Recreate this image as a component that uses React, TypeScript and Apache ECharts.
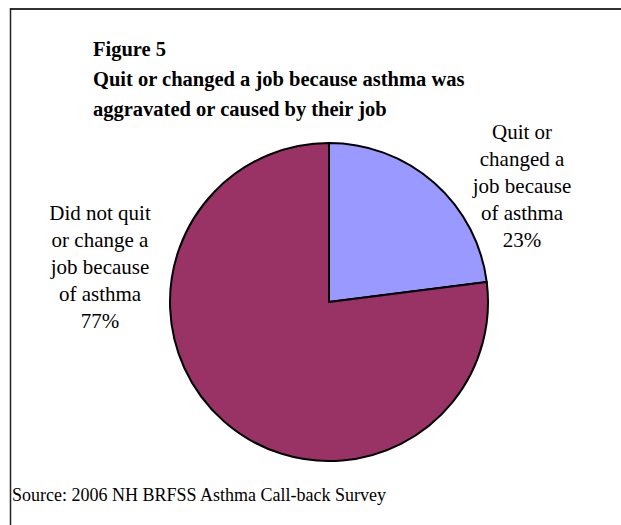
import React, { useEffect, useRef } from "react";
import * as echarts from "echarts";

const categories = [
  "Quit or\nchanged a\njob because\nof asthma",
  "Did not quit\nor change a\njob because\nof asthma",
];
const values = [23, 77];
const colors = ["#9999FF", "#993366"];
const titleLines = [
  "Figure 5",
  "Quit or changed a job because asthma was",
  "aggravated or caused by their job",
];
const sourceText = "Source: 2006 NH BRFSS Asthma Call-back Survey";
const labelCenters = [
  [522, 185],
  [100, 266],
];

const FONT = "Liberation Serif";

export default function App() {
  const ref = useRef<HTMLDivElement>(null);
  useEffect(() => {
    if (!ref.current) return;
    const chart = echarts.init(ref.current, null, { renderer: "svg" });
    chart.setOption({
      animation: false,
      backgroundColor: "#ffffff",
      textStyle: { fontFamily: FONT },
      title: {
        text: titleLines.join("\n"),
        left: 88,
        top: 29,
        textStyle: {
          fontFamily: FONT,
          fontWeight: "bold",
          fontSize: 20.5,
          lineHeight: 30,
          color: "#000",
        },
      },
      graphic: [
        {
          type: "line",
          shape: { x1: 10, y1: 9, x2: 621, y2: 9 },
          style: { stroke: "#333", lineWidth: 2 },
        },
        {
          type: "line",
          shape: { x1: 10.5, y1: 8, x2: 10.5, y2: 525 },
          style: { stroke: "#222", lineWidth: 1.5 },
        },
        {
          type: "text",
          left: 12,
          top: 486,
          style: {
            text: sourceText,
            font: `18px ${FONT}`,
            fill: "#000",
          },
        },
        {
          type: "text",
          x: labelCenters[0][0],
          y: labelCenters[0][1] - 67,
          style: {
            text: `${categories[0]}\n${values[0]}%`,
            fontFamily: FONT,
            fontSize: 21,
            fontWeight: "normal",
            lineHeight: 27,
            fill: "#000",
            align: "center",
            verticalAlign: "top",
          },
        },
        {
          type: "text",
          x: labelCenters[1][0],
          y: labelCenters[1][1] - 67,
          style: {
            text: `${categories[1]}\n${values[1]}%`,
            font: `normal 21px ${FONT}`,
            lineHeight: 27,
            fill: "#000",
            align: "center",
          },
        },
      ],
      series: [
        {
          type: "pie",
          center: [329, 302],
          radius: 159,
          startAngle: 90,
          clockwise: true,
          silent: true,
          itemStyle: { borderColor: "#000", borderWidth: 2 },
          label: { show: false },
          labelLine: { show: false },
          data: categories.map((c, i) => ({
            name: c,
            value: values[i],
            itemStyle: { color: colors[i] },
          })),
        },
      ],
    });
    return () => chart.dispose();
  }, []);
  return (
    <div
      ref={ref}
      style={{ position: "fixed", left: 0, top: 0, width: 621, height: 525 }}
    />
  );
}
